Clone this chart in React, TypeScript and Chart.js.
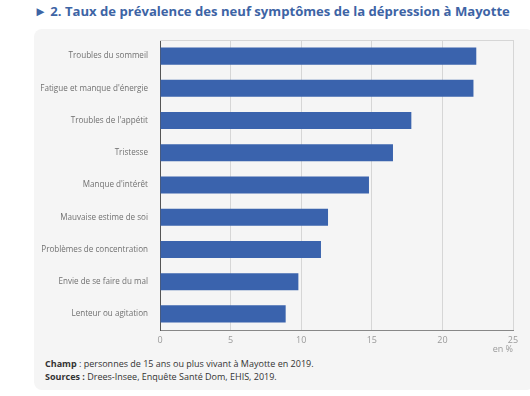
import React, { useEffect, useRef } from "react";
import { Chart, registerables } from "chart.js";
Chart.register(...registerables);

const categories = [
  "Troubles du sommeil",
  "Fatigue et manque d'énergie",
  "Troubles de l'appétit",
  "Tristesse",
  "Manque d'intérêt",
  "Mauvaise estime de soi",
  "Problèmes de concentration",
  "Envie de se faire du mal",
  "Lenteur ou agitation",
];
const values = [22.4, 22.2, 17.8, 16.5, 14.8, 11.9, 11.4, 9.8, 8.9];
const xTicks = [0, 5, 10, 15, 20, 25];

const FONT = "'Open Sans', 'Noto Sans', sans-serif";

const frame = {
  id: "frame",
  afterDatasetsDraw(chart: any) {
    const { ctx, chartArea } = chart;
    ctx.save();
    ctx.strokeStyle = "#d6d6d6";
    ctx.lineWidth = 1;
    ctx.beginPath();
    ctx.moveTo(chartArea.left, chartArea.top + 0.5);
    ctx.lineTo(chartArea.right, chartArea.top + 0.5);
    ctx.stroke();
    ctx.restore();
  },
};

export default function App() {
  const ref = useRef<HTMLCanvasElement>(null);
  useEffect(() => {
    document.body.style.margin = "0";
    const chart = new Chart(ref.current!, {
      type: "bar",
      data: {
        labels: categories,
        datasets: [
          {
            data: values,
            backgroundColor: "#3a63ad",
            barPercentage: 0.53,
            categoryPercentage: 1,
          },
        ],
      },
      plugins: [frame],
      options: {
        indexAxis: "y",
        animation: false,
        responsive: false,
        layout: { padding: { top: 10, right: 14, left: 0, bottom: 0 } },
        plugins: { legend: { display: false }, tooltip: { enabled: false } },
        scales: {
          x: {
            min: 0,
            max: 25,
            afterBuildTicks: (s: any) => {
              s.ticks = xTicks.map((v) => ({ value: v }));
            },
            afterFit: (s: any) => {
              s.height = 20;
            },
            grid: { color: "#d6d6d6", drawTicks: false },
            border: { color: "#888", width: 1 },
            ticks: { color: "#9a9a9a", font: { family: FONT, size: 9 }, padding: 5 },
          },
          y: {
            afterFit: (s: any) => {
              s.width = 125;
            },
            grid: { display: false },
            border: { color: "#555", width: 1 },
            ticks: { color: "#707070", font: { family: FONT, size: 8.1 }, padding: 4 },
          },
        },
      },
    });
    return () => chart.destroy();
  }, []);

  return (
    <div style={{ position: "relative", width: 530, height: 396, background: "#fff", fontFamily: FONT, overflow: "hidden" }}>
      <div style={{ position: "absolute", left: 34, top: 2, fontSize: 13.1, fontWeight: 700, color: "#3d64a5", whiteSpace: "nowrap" }}>
        ► 2. Taux de prévalence des neuf symptômes de la dépression à Mayotte
      </div>
      <div style={{ position: "absolute", left: 34, top: 29, width: 500, height: 361, background: "#f5f5f5", borderRadius: 8 }} />
      <canvas ref={ref} width={492} height={320} style={{ position: "absolute", left: 35, top: 30, width: 492, height: 320 }} />
      <div style={{ position: "absolute", left: 483, top: 342, fontSize: 9, color: "#9a9a9a", width: 30, textAlign: "right" }}>en %</div>
      <div style={{ position: "absolute", left: 45, top: 357, fontSize: 9, color: "#333", lineHeight: "13px", whiteSpace: "nowrap" }}>
        <div><b>Champ</b> : personnes de 15 ans ou plus vivant à Mayotte en 2019.</div>
        <div><b>Sources :</b> Drees-Insee, Enquête Santé Dom, EHIS, 2019.</div>
      </div>
    </div>
  );
}
